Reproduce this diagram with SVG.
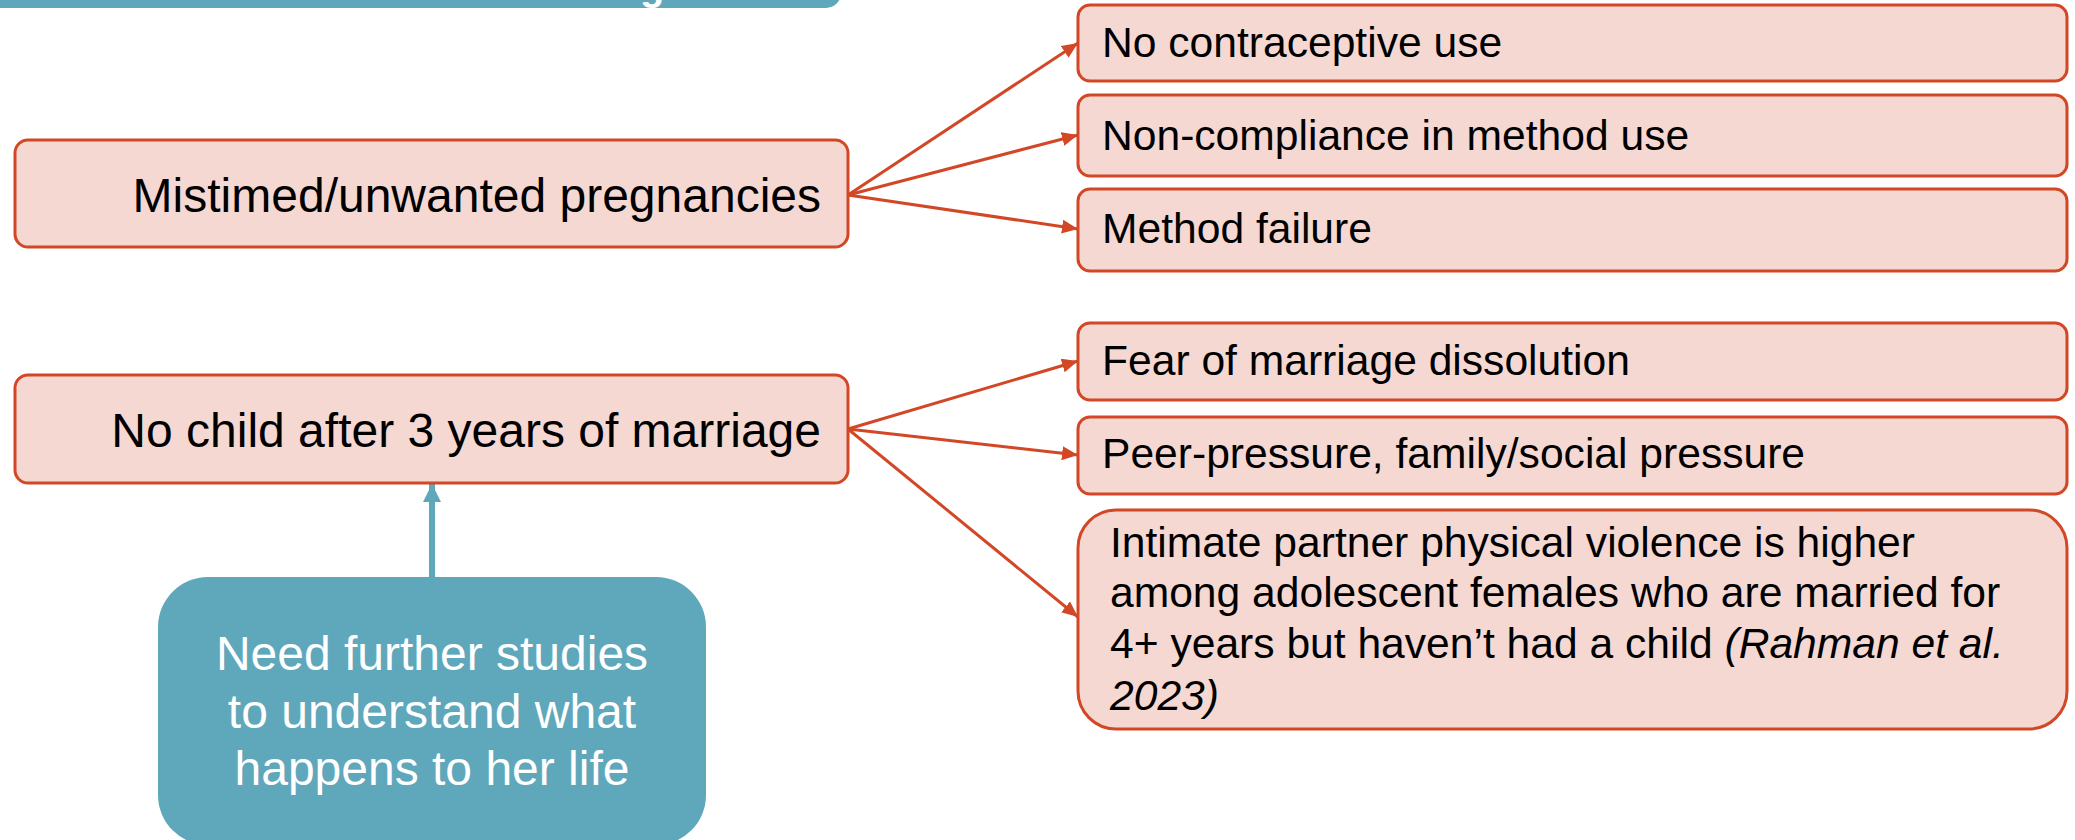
<svg xmlns="http://www.w3.org/2000/svg" width="2075" height="840" viewBox="0 0 2075 840">
  <defs>
    <style>
      .box { fill: #f5d8d2; stroke: #d24726; stroke-width: 3; }
      .teal { fill: #5fa7bb; }
      .lbl { font-family: "Liberation Sans", Arial, sans-serif; fill: #000; }
      .big { font-size: 48px; }
      .sm { font-size: 42.6px; }
      .wht { font-family: "Liberation Sans", Arial, sans-serif; fill: #fff; font-size: 48px; }
      .edge { stroke: #d24726; stroke-width: 3; fill: none; }
      .up { stroke: #5fa7bb; stroke-width: 6; fill: none; }
    </style>
    <marker id="redHead" markerUnits="userSpaceOnUse" markerWidth="16" markerHeight="14" viewBox="0 0 16 14" refX="16" refY="7" orient="auto">
      <path d="M0,0 L16,7 L0,14 Z" fill="#d24726"/>
    </marker>
    <marker id="tealHead" markerUnits="userSpaceOnUse" markerWidth="18" markerHeight="18" viewBox="0 0 18 18" refX="18" refY="9" orient="auto">
      <path d="M0,0 L18,9 L0,18 Z" fill="#5fa7bb"/>
    </marker>
  </defs>

  <!-- header banner (runs off the top edge) -->
  <g id="header">
    <path class="teal" d="M0,-40 H826 A15,15 0 0 1 841,-25 V-7 A15,15 0 0 1 826,8 H0 Z"/>
    <text x="640" y="0" font-family="Liberation Sans, Arial, sans-serif" font-weight="bold" font-size="40" fill="#fff">g</text>
  </g>

  <!-- connectors -->
  <g id="connectors">
    <line class="edge" x1="848" y1="195" x2="1078" y2="43" marker-end="url(#redHead)"/>
    <line class="edge" x1="848" y1="195" x2="1078" y2="135" marker-end="url(#redHead)"/>
    <line class="edge" x1="848" y1="195" x2="1078" y2="229" marker-end="url(#redHead)"/>
    <line class="edge" x1="848" y1="429" x2="1078" y2="361" marker-end="url(#redHead)"/>
    <line class="edge" x1="848" y1="429" x2="1078" y2="455" marker-end="url(#redHead)"/>
    <line class="edge" x1="848" y1="429" x2="1078" y2="617" marker-end="url(#redHead)"/>
    <line class="up" x1="432" y1="577" x2="432" y2="484" marker-end="url(#tealHead)"/>
  </g>

  <!-- left column -->
  <g id="mistimed">
    <rect class="box" x="15" y="140" width="833" height="107" rx="13"/>
    <text class="lbl big" x="821" y="212" text-anchor="end">Mistimed/unwanted pregnancies</text>
  </g>
  <g id="no-child">
    <rect class="box" x="15" y="375" width="833" height="108" rx="13"/>
    <text class="lbl big" x="821" y="447" text-anchor="end">No child after 3 years of marriage</text>
  </g>
  <g id="further-studies">
    <rect class="teal" x="158" y="577" width="548" height="268" rx="50"/>
    <text class="wht" x="432" y="670" text-anchor="middle">Need further studies</text>
    <text class="wht" x="432" y="728" text-anchor="middle">to understand what</text>
    <text class="wht" x="432" y="785" text-anchor="middle">happens to her life</text>
  </g>

  <!-- right column: causes of mistimed pregnancies -->
  <g id="no-contraceptive">
    <rect class="box" x="1078" y="5" width="989" height="76" rx="12"/>
    <text class="lbl sm" x="1102" y="57">No contraceptive use</text>
  </g>
  <g id="non-compliance">
    <rect class="box" x="1078" y="95" width="989" height="81" rx="12"/>
    <text class="lbl sm" x="1102" y="150">Non-compliance in method use</text>
  </g>
  <g id="method-failure">
    <rect class="box" x="1078" y="189" width="989" height="82" rx="12"/>
    <text class="lbl sm" x="1102" y="243">Method failure</text>
  </g>

  <!-- right column: consequences of childlessness -->
  <g id="fear-dissolution">
    <rect class="box" x="1078" y="323" width="989" height="77" rx="12"/>
    <text class="lbl sm" x="1102" y="375">Fear of marriage dissolution</text>
  </g>
  <g id="peer-pressure">
    <rect class="box" x="1078" y="417" width="989" height="77" rx="12"/>
    <text class="lbl sm" x="1102" y="468">Peer-pressure, family/social pressure</text>
  </g>
  <g id="partner-violence">
    <rect class="box" x="1078" y="510" width="989" height="219" rx="38"/>
    <text class="lbl sm" x="1110" y="557">Intimate partner physical violence is higher</text>
    <text class="lbl sm" x="1110" y="607">among adolescent females who are married for</text>
    <text class="lbl sm" x="1110" y="658">4+ years but haven’t had a child <tspan font-style="italic">(Rahman et al.</tspan></text>
    <text class="lbl sm" x="1110" y="710" font-style="italic">2023)</text>
  </g>
</svg>
